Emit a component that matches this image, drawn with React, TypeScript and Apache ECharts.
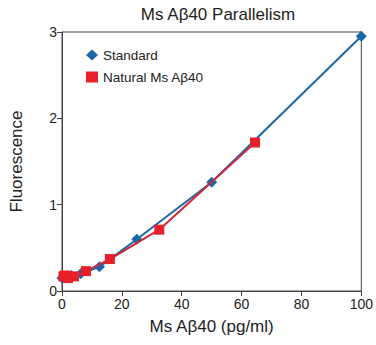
import React, { useEffect, useRef } from "react";
import * as echarts from "echarts";

const standardX = [0, 1.56, 3.125, 6.25, 12.5, 25, 50, 100];
const standardY = [0.15, 0.17, 0.18, 0.2, 0.28, 0.6, 1.26, 2.95];
const naturalX = [0.5, 1, 2, 4, 8, 16, 32.5, 64.5];
const naturalY = [0.17, 0.18, 0.15, 0.17, 0.23, 0.37, 0.71, 1.72];
const xTicks = [0, 20, 40, 60, 80, 100];
const yTicks = [0, 1, 2, 3];

export default function App() {
  const ref = useRef<HTMLDivElement>(null);
  useEffect(() => {
    document.body.style.margin = "0";
    const chart = echarts.init(ref.current!, null, { renderer: "svg" });
    const font = "Liberation Sans, Arial, sans-serif";
    chart.setOption({
      animation: false,
      textStyle: { fontFamily: font },
      title: {
        text: "Ms Aβ40 Parallelism",
        left: 213,
        textAlign: "center",
        top: 1,
        textStyle: { fontSize: 17, fontWeight: "normal", color: "#222", fontFamily: font },
      },
      legend: {
        left: 81,
        top: 43,
        orient: "vertical",
        itemGap: 8,
        itemWidth: 12,
        itemHeight: 11,
        textStyle: { fontSize: 13.5, color: "#222", fontFamily: font },
        data: [
          { name: "Standard", icon: "diamond" },
          { name: "Natural Ms Aβ40", icon: "rect" },
        ],
      },
      grid: {
        left: 59,
        right: 14,
        top: 32,
        bottom: 54,
        show: true,
        borderColor: "#444",
        borderWidth: 1,
        containLabel: false,
      },
      xAxis: {
        type: "value",
        min: xTicks[0],
        max: xTicks[xTicks.length - 1],
        interval: 20,
        name: "Ms Aβ40 (pg/ml)",
        nameLocation: "middle",
        nameGap: 27,
        nameTextStyle: { fontSize: 17, color: "#222", fontFamily: font },
        axisLine: { show: true, lineStyle: { color: "#444" } },
        axisTick: { show: true, length: 5, inside: false, lineStyle: { color: "#444" } },
        axisLabel: { fontSize: 14, color: "#222", margin: 6, fontFamily: font },
        splitLine: { show: false },
      },
      yAxis: {
        type: "value",
        min: yTicks[0],
        max: yTicks[yTicks.length - 1],
        interval: 1,
        name: "Fluorescence",
        nameLocation: "middle",
        nameGap: 37,
        nameTextStyle: { fontSize: 17, color: "#222", fontFamily: font },
        axisLine: { show: true, lineStyle: { color: "#444" } },
        axisTick: { show: true, length: 5, inside: false, lineStyle: { color: "#444" } },
        axisLabel: { fontSize: 14, color: "#222", margin: 5, fontFamily: font },
        splitLine: { show: false },
      },
      series: [
        {
          name: "Standard",
          type: "line",
          data: standardX.map((x, i) => [x, standardY[i]]),
          symbol: "diamond",
          symbolSize: 11,
          itemStyle: { color: "#1c67a8" },
          lineStyle: { color: "#1c67a8", width: 2 },
          z: 2,
        },
        {
          name: "Natural Ms Aβ40",
          type: "line",
          data: naturalX.map((x, i) => [x, naturalY[i]]),
          symbol: "rect",
          symbolSize: 10,
          itemStyle: { color: "#e8202a" },
          lineStyle: { color: "#d0283a", width: 2 },
          z: 3,
        },
      ],
    });
    return () => chart.dispose();
  }, []);
  return <div ref={ref} style={{ width: 376, height: 345 }} />;
}
